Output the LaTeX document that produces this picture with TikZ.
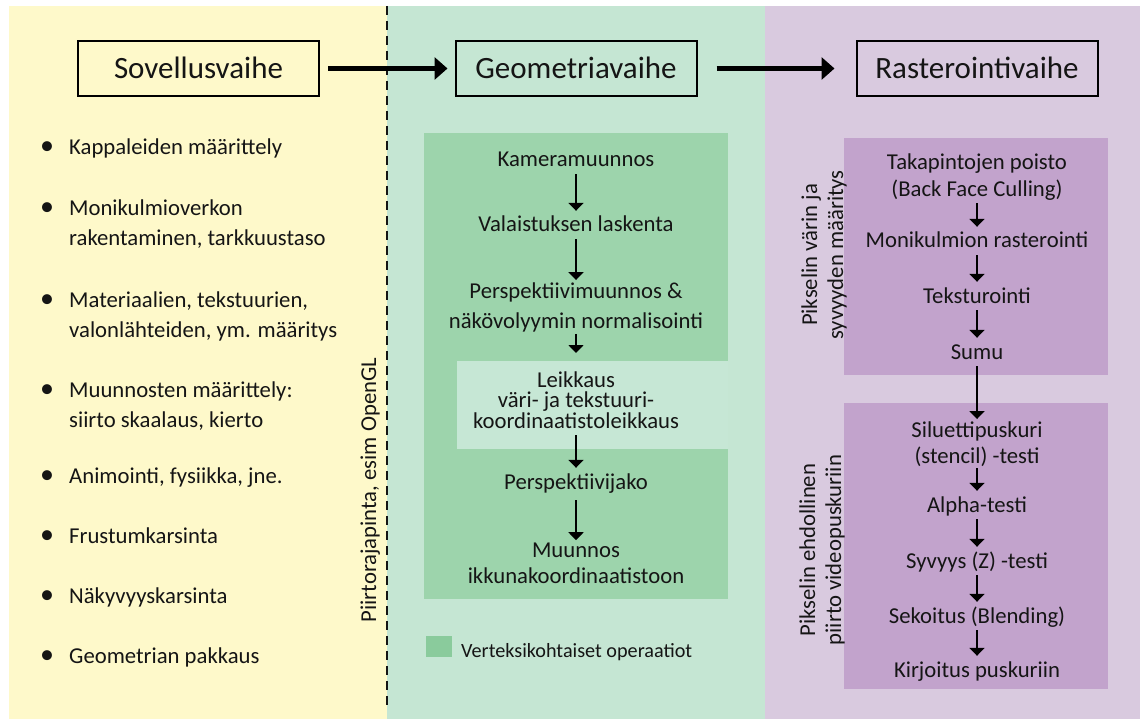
\documentclass[tikz,border=0pt]{standalone}
\usepackage{fontspec}
\setmainfont{Carlito}
\usetikzlibrary{arrows.meta}
\definecolor{ybg}{HTML}{FEF9CA}
\definecolor{gbg}{HTML}{C5E6D3}
\definecolor{pbg}{HTML}{D9CADF}
\definecolor{gbox}{HTML}{9DD4AC}
\definecolor{glight}{HTML}{C6E7D5}
\definecolor{glegend}{HTML}{8ACB9C}
\definecolor{pbox}{HTML}{C2A3CC}
\definecolor{txtc}{HTML}{151515}
\begin{document}
\begin{tikzpicture}[x=1pt,y=-1pt,
  stage/.style={draw=black, line width=2pt, minimum width=241pt, minimum height=55pt,
    text height=20pt, text depth=0pt, inner sep=0pt, font=\fontsize{31}{37}\selectfont, text=txtc},
  one/.style={font=\fontsize{22.7}{27}\selectfont, text=txtc, text height=19pt, text depth=5pt,
    inner xsep=2pt, inner ysep=2pt, anchor=base},
  multi/.style={font=\fontsize{22.7}{#1}\selectfont, text=txtc, align=center,
    inner xsep=2pt, inner ysep=2pt, anchor=base},
  item/.style={font=\fontsize{22.7}{30}\selectfont, text=txtc, align=left, anchor=base west, inner sep=0pt},
  bul/.style={font=\fontsize{28}{30}\selectfont, text=txtc, anchor=base, inner sep=0pt},
  lab/.style={font=\fontsize{22.7}{26}\selectfont, text=txtc, rotate=90, anchor=base, align=center, inner sep=0pt},
  sarr/.style={-{Triangle[width=15pt,length=8pt]}, line width=1.8pt, draw=black},
  barr/.style={-{Triangle[width=22pt,length=13pt]}, line width=4.5pt, draw=black}
]
\useasboundingbox (0,0) rectangle (1140,719);
% panels
\fill[ybg] (9,6) rectangle (387,719);
\fill[gbg] (387,6) rectangle (765,719);
\fill[pbg] (765,6) rectangle (1140,719);
\draw[line width=2.5pt, dash pattern=on 9pt off 6pt, draw=txtc] (387,6) -- (387,710);

% stage boxes
\node[stage, fill=ybg] (s1) at (198.5,68.5) {Sovellusvaihe};
\node[stage, fill=gbg] (s2) at (576,68.5) {Geometriavaihe};
\node[stage, fill=pbg] (s3) at (977,68.5) {Rasterointivaihe};
\draw[barr, shorten <=8pt, shorten >=7pt] (s1) -- (s2);
\draw[barr, shorten <=19pt, shorten >=21pt] (s2) -- (s3);

% left list (multi-line nodes are placed at the baseline of their last line)
\node[bul] (b1) at (47,155) {•};
\node[item] (l1) at (69,155) {Kappaleiden määrittely};
\node[bul] (b2) at (47,216) {•};
\node[item] (l2) at (69,246) {Monikulmioverkon\\rakentaminen, tarkkuustaso};
\node[bul] (b3) at (47,307) {•};
\node[item] (l3) at (69,337) {Materiaalien, tekstuurien,\\valonlähteiden, ym. määritys};
\node[bul] (b4) at (47,397) {•};
\node[item] (l4) at (69,427) {Muunnosten määrittely:\\siirto skaalaus, kierto};
\node[bul] (b5) at (47,483) {•};
\node[item] (l5) at (69,483) {Animointi, fysiikka, jne.};
\node[bul] (b6) at (47,543) {•};
\node[item] (l6) at (69,543) {Frustumkarsinta};
\node[bul] (b7) at (47,603) {•};
\node[item] (l7) at (69,603) {Näkyvyyskarsinta};
\node[bul] (b8) at (47,663) {•};
\node[item] (l8) at (69,663) {Geometrian pakkaus};
\node[lab] (api) at (376,490) {Piirtorajapinta, esim OpenGL};

% geometry stage
\fill[gbox] (424,133) rectangle (728,599);
\fill[glight] (457,361) rectangle (728,449);
\coordinate (leiktop) at (576,361);
\node[one] (g1) at (576,167) {Kameramuunnos};
\node[one] (g2) at (576,232) {Valaistuksen laskenta};
\node[multi=30] (g3) at (576,328) {Perspektiivimuunnos \&\\näkövolyymin normalisointi};
\node[multi=20.5] (g4) at (576,428) {Leikkaus\\väri- ja tekstuuri-\\koordinaatistoleikkaus};
\node[one] (g5) at (576,489) {Perspektiivijako};
\node[multi=26] (g6) at (576,583) {Muunnos\\ikkunakoordinaatistoon};
\draw[sarr] (g1.south) -- (g2.north);
\draw[sarr] (g2.south) -- (g3.north);
\draw[sarr, shorten >=8pt] (g3.south) -- (leiktop);
\draw[sarr, shorten <=5pt] (g4.south) -- (g5.north);
\draw[sarr, shorten <=4pt] (g5.south) -- (g6.north);
\fill[glegend] (426,636) rectangle (452,657);
\node[font=\fontsize{20.2}{24}\selectfont, text=txtc, anchor=base west, inner sep=0pt] (leg) at (461,657) {Verteksikohtaiset operaatiot};

% raster stage
\fill[pbox] (844,138) rectangle (1108,375);
\fill[pbox] (844,403) rectangle (1108,689);
\node[multi=27] (p1) at (977,197) {Takapintojen poisto\\(Back Face Culling)};
\node[one] (p2) at (977,248) {Monikulmion rasterointi};
\node[one] (p3) at (977,303) {Teksturointi};
\node[one] (p4) at (977,359) {Sumu};
\node[multi=26] (p5) at (977,463) {Siluettipuskuri\\(stencil) -testi};
\node[one] (p6) at (977,512) {Alpha-testi};
\node[one] (p7) at (977,568) {Syvyys (Z) -testi};
\node[one] (p8) at (977,623) {Sekoitus (Blending)};
\node[one] (p9) at (977,677) {Kirjoitus puskuriin};
\draw[sarr] (p1.south) -- (p2.north);
\draw[sarr] (p2.south) -- (p3.north);
\draw[sarr] (p3.south) -- (p4.north);
\draw[sarr] (p4.south) -- (p5.north);
\draw[sarr] (p5.south) -- (p6.north);
\draw[sarr] (p6.south) -- (p7.north);
\draw[sarr] (p7.south) -- (p8.north);
\draw[sarr] (p8.south) -- (p9.north);
\node[lab] (r1) at (843,255) {Pikselin värin ja\\syvyyden määritys};
\node[lab] (r2) at (841,550) {Pikselin ehdollinen\\piirto videopuskuriin};
\end{tikzpicture}
\end{document}
